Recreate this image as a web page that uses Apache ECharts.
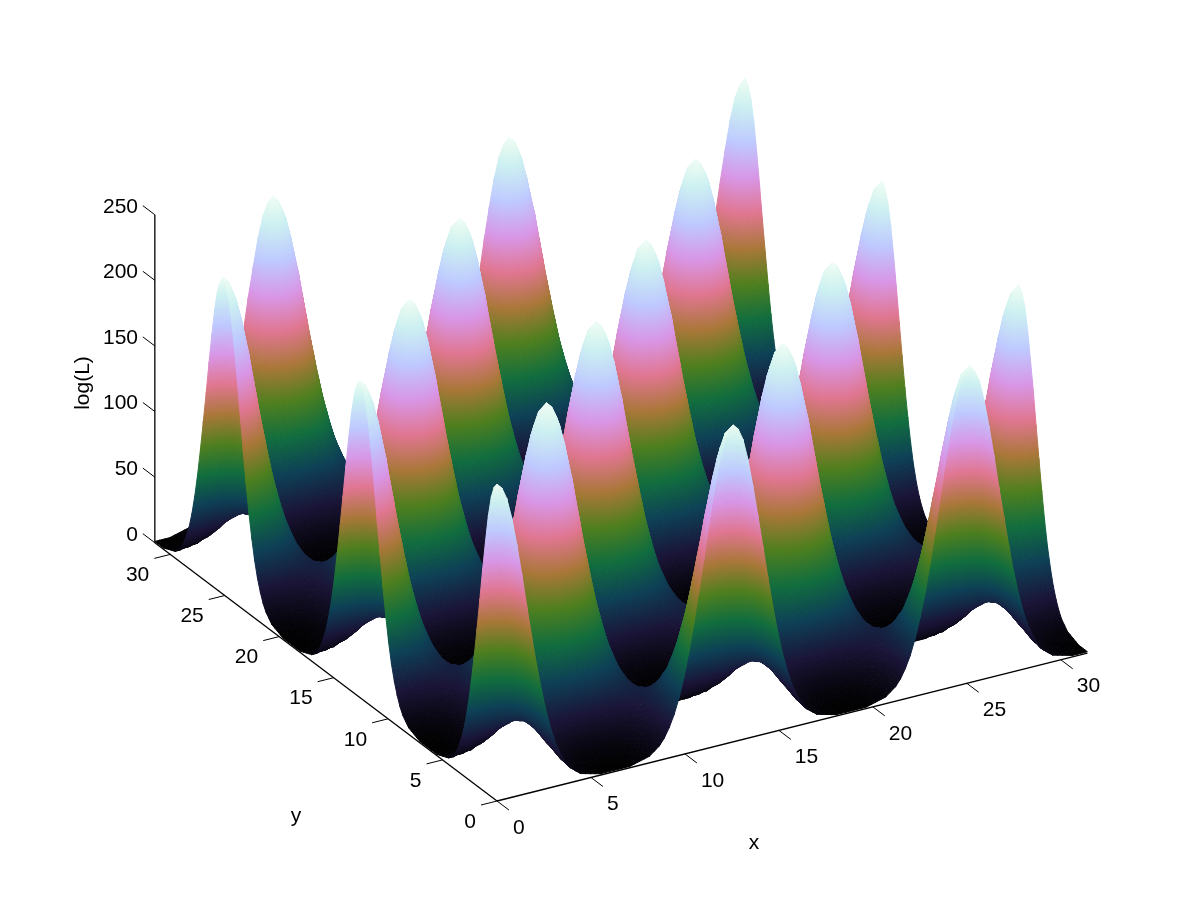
<!DOCTYPE html>
<html>
<head>
<meta charset="utf-8">
<title>log(L)</title>
<style>
html, body { margin: 0; padding: 0; background: #fff; }
#main { width: 1200px; height: 900px; }
</style>
<script src="https://cdn.jsdelivr.net/npm/echarts@6/dist/echarts.min.js"></script>
</head>
<body>
<div id="main"></div>
<script>
// grid nodes along x and y
var gridX = [0,0.26,0.52,0.79,1.05,1.31,1.57,1.83,2.09,2.36,2.62,2.88,3.14,3.40,3.67,3.93,4.19,4.45,4.71,4.97,5.24,5.50,5.76,6.02,6.28,6.54,6.81,7.07,7.33,7.59,7.85,8.11,8.38,8.64,8.90,9.16,9.42,9.69,9.95,10.21,10.47,10.73,11.00,11.26,11.52,11.78,12.04,12.30,12.57,12.83,13.09,13.35,13.61,13.87,14.14,14.40,14.66,14.92,15.18,15.45,15.71,15.97,16.23,16.49,16.76,17.02,17.28,17.54,17.80,18.06,18.33,18.59,18.85,19.11,19.37,19.63,19.90,20.16,20.42,20.68,20.94,21.21,21.47,21.73,21.99,22.25,22.51,22.78,23.04,23.30,23.56,23.82,24.09,24.35,24.61,24.87,25.13,25.39,25.66,25.92,26.18,26.44,26.70,26.97,27.23,27.49,27.75,28.01,28.27,28.54,28.80,29.06,29.32,29.58,29.85,30.11,30.37,30.63,30.89,31.16,31.42];
var gridY = gridX;

// surface rows, the same profiles come back along y
var rowP0 = [243,239,230,214,193,170,145,121,98,77,59,44,32,23,16,11,8,5,4,3,2,1,1,1,1,1,1,1,2,3,4,5,8,11,16,23,32,44,59,77,98,121,145,170,193,214,230,239,243,239,230,214,193,170,145,121,98,77,59,44,32,23,16,11,8,5,4,3,2,1,1,1,1,1,1,1,2,3,4,5,8,11,16,23,32,44,59,77,98,121,145,170,193,214,230,239,243,239,230,214,193,170,145,121,98,77,59,44,32,23,16,11,8,5,4,3,2,1,1,1,1];
var rowP1 = [239,236,226,211,191,168,144,120,97,76,59,44,32,23,16,11,8,5,4,3,2,1,1,1,1,1,1,1,2,3,4,5,8,11,16,23,32,44,59,76,97,120,144,168,191,211,226,236,239,236,226,211,191,168,144,120,97,76,59,44,32,23,16,11,8,5,4,3,2,1,1,1,1,1,1,1,2,3,4,5,8,11,16,23,32,44,59,76,97,120,144,168,191,211,226,236,239,236,226,211,191,168,144,120,97,76,59,44,32,23,16,11,8,5,4,3,2,1,1,1,1];
var rowP2 = [230,226,217,202,184,162,139,116,94,75,58,43,32,23,16,12,8,6,4,3,2,2,1,1,1,1,1,2,2,3,4,6,8,12,16,23,32,43,58,75,94,116,139,162,184,202,217,226,230,226,217,202,184,162,139,116,94,75,58,43,32,23,16,12,8,6,4,3,2,2,1,1,1,1,1,2,2,3,4,6,8,12,16,23,32,43,58,75,94,116,139,162,184,202,217,226,230,226,217,202,184,162,139,116,94,75,58,43,32,23,16,12,8,6,4,3,2,2,1,1,1];
var rowP3 = [214,211,202,189,172,152,131,110,90,72,56,43,32,23,17,12,9,6,4,3,2,2,2,1,1,1,2,2,2,3,4,6,9,12,17,23,32,43,56,72,90,110,131,152,172,189,202,211,214,211,202,189,172,152,131,110,90,72,56,43,32,23,17,12,9,6,4,3,2,2,2,1,1,1,2,2,2,3,4,6,9,12,17,23,32,43,56,72,90,110,131,152,172,189,202,211,214,211,202,189,172,152,131,110,90,72,56,43,32,23,17,12,9,6,4,3,2,2,2,1,1];
var rowP4 = [193,191,184,172,157,140,122,103,85,69,54,42,32,24,18,13,9,7,5,4,3,2,2,2,2,2,2,2,3,4,5,7,9,13,18,24,32,42,54,69,85,103,122,140,157,172,184,191,193,191,184,172,157,140,122,103,85,69,54,42,32,24,18,13,9,7,5,4,3,2,2,2,2,2,2,2,3,4,5,7,9,13,18,24,32,42,54,69,85,103,122,140,157,172,184,191,193,191,184,172,157,140,122,103,85,69,54,42,32,24,18,13,9,7,5,4,3,2,2,2,2];
var rowP5 = [170,168,162,152,140,126,110,94,79,65,52,41,32,24,19,14,11,8,6,5,4,3,3,3,3,3,3,3,4,5,6,8,11,14,19,24,32,41,52,65,79,94,110,126,140,152,162,168,170,168,162,152,140,126,110,94,79,65,52,41,32,24,19,14,11,8,6,5,4,3,3,3,3,3,3,3,4,5,6,8,11,14,19,24,32,41,52,65,79,94,110,126,140,152,162,168,170,168,162,152,140,126,110,94,79,65,52,41,32,24,19,14,11,8,6,5,4,3,3,3,3];
var rowP6 = [145,144,139,131,122,110,98,85,72,60,50,40,32,25,20,15,12,10,8,6,5,4,4,4,4,4,4,4,5,6,8,10,12,15,20,25,32,40,50,60,72,85,98,110,122,131,139,144,145,144,139,131,122,110,98,85,72,60,50,40,32,25,20,15,12,10,8,6,5,4,4,4,4,4,4,4,5,6,8,10,12,15,20,25,32,40,50,60,72,85,98,110,122,131,139,144,145,144,139,131,122,110,98,85,72,60,50,40,32,25,20,15,12,10,8,6,5,4,4,4,4];
var rowP7 = [121,120,116,110,103,94,85,75,65,56,47,39,32,26,21,17,14,12,10,8,7,6,6,5,5,5,6,6,7,8,10,12,14,17,21,26,32,39,47,56,65,75,85,94,103,110,116,120,121,120,116,110,103,94,85,75,65,56,47,39,32,26,21,17,14,12,10,8,7,6,6,5,5,5,6,6,7,8,10,12,14,17,21,26,32,39,47,56,65,75,85,94,103,110,116,120,121,120,116,110,103,94,85,75,65,56,47,39,32,26,21,17,14,12,10,8,7,6,6,5,5];
var rowP8 = [98,97,94,90,85,79,72,65,58,50,44,38,32,27,23,19,16,14,12,11,9,9,8,8,8,8,8,9,9,11,12,14,16,19,23,27,32,38,44,50,58,65,72,79,85,90,94,97,98,97,94,90,85,79,72,65,58,50,44,38,32,27,23,19,16,14,12,11,9,9,8,8,8,8,8,9,9,11,12,14,16,19,23,27,32,38,44,50,58,65,72,79,85,90,94,97,98,97,94,90,85,79,72,65,58,50,44,38,32,27,23,19,16,14,12,11,9,9,8,8,8];
var rowP9 = [77,76,75,72,69,65,60,56,50,46,41,36,32,28,25,22,19,17,15,14,13,12,12,11,11,11,12,12,13,14,15,17,19,22,25,28,32,36,41,46,50,56,60,65,69,72,75,76,77,76,75,72,69,65,60,56,50,46,41,36,32,28,25,22,19,17,15,14,13,12,12,11,11,11,12,12,13,14,15,17,19,22,25,28,32,36,41,46,50,56,60,65,69,72,75,76,77,76,75,72,69,65,60,56,50,46,41,36,32,28,25,22,19,17,15,14,13,12,12,11,11];
var rowP10 = [59,59,58,56,54,52,50,47,44,41,38,35,32,29,27,25,23,21,20,19,18,17,16,16,16,16,16,17,18,19,20,21,23,25,27,29,32,35,38,41,44,47,50,52,54,56,58,59,59,59,58,56,54,52,50,47,44,41,38,35,32,29,27,25,23,21,20,19,18,17,16,16,16,16,16,17,18,19,20,21,23,25,27,29,32,35,38,41,44,47,50,52,54,56,58,59,59,59,58,56,54,52,50,47,44,41,38,35,32,29,27,25,23,21,20,19,18,17,16,16,16];
var rowP11 = [44,44,43,43,42,41,40,39,38,36,35,33,32,31,29,28,27,26,25,24,24,23,23,23,23,23,23,23,24,24,25,26,27,28,29,31,32,33,35,36,38,39,40,41,42,43,43,44,44,44,43,43,42,41,40,39,38,36,35,33,32,31,29,28,27,26,25,24,24,23,23,23,23,23,23,23,24,24,25,26,27,28,29,31,32,33,35,36,38,39,40,41,42,43,43,44,44,44,43,43,42,41,40,39,38,36,35,33,32,31,29,28,27,26,25,24,24,23,23,23,23];
var rowM = [32,32,32,32,32,32,32,32,32,32,32,32,32,32,32,32,32,32,32,32,32,32,32,32,32,32,32,32,32,32,32,32,32,32,32,32,32,32,32,32,32,32,32,32,32,32,32,32,32,32,32,32,32,32,32,32,32,32,32,32,32,32,32,32,32,32,32,32,32,32,32,32,32,32,32,32,32,32,32,32,32,32,32,32,32,32,32,32,32,32,32,32,32,32,32,32,32,32,32,32,32,32,32,32,32,32,32,32,32,32,32,32,32,32,32,32,32,32,32,32,32];
var rowN11 = [23,23,23,23,24,24,25,26,27,28,29,31,32,33,35,36,38,39,40,41,42,43,43,44,44,44,43,43,42,41,40,39,38,36,35,33,32,31,29,28,27,26,25,24,24,23,23,23,23,23,23,23,24,24,25,26,27,28,29,31,32,33,35,36,38,39,40,41,42,43,43,44,44,44,43,43,42,41,40,39,38,36,35,33,32,31,29,28,27,26,25,24,24,23,23,23,23,23,23,23,24,24,25,26,27,28,29,31,32,33,35,36,38,39,40,41,42,43,43,44,44];
var rowN10 = [16,16,16,17,18,19,20,21,23,25,27,29,32,35,38,41,44,47,50,52,54,56,58,59,59,59,58,56,54,52,50,47,44,41,38,35,32,29,27,25,23,21,20,19,18,17,16,16,16,16,16,17,18,19,20,21,23,25,27,29,32,35,38,41,44,47,50,52,54,56,58,59,59,59,58,56,54,52,50,47,44,41,38,35,32,29,27,25,23,21,20,19,18,17,16,16,16,16,16,17,18,19,20,21,23,25,27,29,32,35,38,41,44,47,50,52,54,56,58,59,59];
var rowN9 = [11,11,12,12,13,14,15,17,19,22,25,28,32,36,41,46,50,56,60,65,69,72,75,76,77,76,75,72,69,65,60,56,50,46,41,36,32,28,25,22,19,17,15,14,13,12,12,11,11,11,12,12,13,14,15,17,19,22,25,28,32,36,41,46,50,56,60,65,69,72,75,76,77,76,75,72,69,65,60,56,50,46,41,36,32,28,25,22,19,17,15,14,13,12,12,11,11,11,12,12,13,14,15,17,19,22,25,28,32,36,41,46,50,56,60,65,69,72,75,76,77];
var rowN8 = [8,8,8,9,9,11,12,14,16,19,23,27,32,38,44,50,58,65,72,79,85,90,94,97,98,97,94,90,85,79,72,65,58,50,44,38,32,27,23,19,16,14,12,11,9,9,8,8,8,8,8,9,9,11,12,14,16,19,23,27,32,38,44,50,58,65,72,79,85,90,94,97,98,97,94,90,85,79,72,65,58,50,44,38,32,27,23,19,16,14,12,11,9,9,8,8,8,8,8,9,9,11,12,14,16,19,23,27,32,38,44,50,58,65,72,79,85,90,94,97,98];
var rowN7 = [5,5,6,6,7,8,10,12,14,17,21,26,32,39,47,56,65,75,85,94,103,110,116,120,121,120,116,110,103,94,85,75,65,56,47,39,32,26,21,17,14,12,10,8,7,6,6,5,5,5,6,6,7,8,10,12,14,17,21,26,32,39,47,56,65,75,85,94,103,110,116,120,121,120,116,110,103,94,85,75,65,56,47,39,32,26,21,17,14,12,10,8,7,6,6,5,5,5,6,6,7,8,10,12,14,17,21,26,32,39,47,56,65,75,85,94,103,110,116,120,121];
var rowN6 = [4,4,4,4,5,6,8,10,12,15,20,25,32,40,50,60,72,85,98,110,122,131,139,144,145,144,139,131,122,110,98,85,72,60,50,40,32,25,20,15,12,10,8,6,5,4,4,4,4,4,4,4,5,6,8,10,12,15,20,25,32,40,50,60,72,85,98,110,122,131,139,144,145,144,139,131,122,110,98,85,72,60,50,40,32,25,20,15,12,10,8,6,5,4,4,4,4,4,4,4,5,6,8,10,12,15,20,25,32,40,50,60,72,85,98,110,122,131,139,144,145];
var rowN5 = [3,3,3,3,4,5,6,8,11,14,19,24,32,41,52,65,79,94,110,126,140,152,162,168,170,168,162,152,140,126,110,94,79,65,52,41,32,24,19,14,11,8,6,5,4,3,3,3,3,3,3,3,4,5,6,8,11,14,19,24,32,41,52,65,79,94,110,126,140,152,162,168,170,168,162,152,140,126,110,94,79,65,52,41,32,24,19,14,11,8,6,5,4,3,3,3,3,3,3,3,4,5,6,8,11,14,19,24,32,41,52,65,79,94,110,126,140,152,162,168,170];
var rowN4 = [2,2,2,2,3,4,5,7,9,13,18,24,32,42,54,69,85,103,122,140,157,172,184,191,193,191,184,172,157,140,122,103,85,69,54,42,32,24,18,13,9,7,5,4,3,2,2,2,2,2,2,2,3,4,5,7,9,13,18,24,32,42,54,69,85,103,122,140,157,172,184,191,193,191,184,172,157,140,122,103,85,69,54,42,32,24,18,13,9,7,5,4,3,2,2,2,2,2,2,2,3,4,5,7,9,13,18,24,32,42,54,69,85,103,122,140,157,172,184,191,193];
var rowN3 = [1,1,2,2,2,3,4,6,9,12,17,23,32,43,56,72,90,110,131,152,172,189,202,211,214,211,202,189,172,152,131,110,90,72,56,43,32,23,17,12,9,6,4,3,2,2,2,1,1,1,2,2,2,3,4,6,9,12,17,23,32,43,56,72,90,110,131,152,172,189,202,211,214,211,202,189,172,152,131,110,90,72,56,43,32,23,17,12,9,6,4,3,2,2,2,1,1,1,2,2,2,3,4,6,9,12,17,23,32,43,56,72,90,110,131,152,172,189,202,211,214];
var rowN2 = [1,1,1,2,2,3,4,6,8,12,16,23,32,43,58,75,94,116,139,162,184,202,217,226,230,226,217,202,184,162,139,116,94,75,58,43,32,23,16,12,8,6,4,3,2,2,1,1,1,1,1,2,2,3,4,6,8,12,16,23,32,43,58,75,94,116,139,162,184,202,217,226,230,226,217,202,184,162,139,116,94,75,58,43,32,23,16,12,8,6,4,3,2,2,1,1,1,1,1,2,2,3,4,6,8,12,16,23,32,43,58,75,94,116,139,162,184,202,217,226,230];
var rowN1 = [1,1,1,1,2,3,4,5,8,11,16,23,32,44,59,76,97,120,144,168,191,211,226,236,239,236,226,211,191,168,144,120,97,76,59,44,32,23,16,11,8,5,4,3,2,1,1,1,1,1,1,1,2,3,4,5,8,11,16,23,32,44,59,76,97,120,144,168,191,211,226,236,239,236,226,211,191,168,144,120,97,76,59,44,32,23,16,11,8,5,4,3,2,1,1,1,1,1,1,1,2,3,4,5,8,11,16,23,32,44,59,76,97,120,144,168,191,211,226,236,239];
var rowN0 = [1,1,1,1,2,3,4,5,8,11,16,23,32,44,59,77,98,121,145,170,193,214,230,239,243,239,230,214,193,170,145,121,98,77,59,44,32,23,16,11,8,5,4,3,2,1,1,1,1,1,1,1,2,3,4,5,8,11,16,23,32,44,59,77,98,121,145,170,193,214,230,239,243,239,230,214,193,170,145,121,98,77,59,44,32,23,16,11,8,5,4,3,2,1,1,1,1,1,1,1,2,3,4,5,8,11,16,23,32,44,59,77,98,121,145,170,193,214,230,239,243];

var heights = [
    rowP0,rowP1,rowP2,rowP3,rowP4,rowP5,rowP6,rowP7,rowP8,rowP9,rowP10,rowP11,rowM,
    rowN11,rowN10,rowN9,rowN8,rowN7,rowN6,rowN5,rowN4,rowN3,rowN2,rowN1,rowN0,
    rowN1,rowN2,rowN3,rowN4,rowN5,rowN6,rowN7,rowN8,rowN9,rowN10,rowN11,rowM,
    rowP11,rowP10,rowP9,rowP8,rowP7,rowP6,rowP5,rowP4,rowP3,rowP2,rowP1,
    rowP0,rowP1,rowP2,rowP3,rowP4,rowP5,rowP6,rowP7,rowP8,rowP9,rowP10,rowP11,rowM,
    rowN11,rowN10,rowN9,rowN8,rowN7,rowN6,rowN5,rowN4,rowN3,rowN2,rowN1,rowN0,
    rowN1,rowN2,rowN3,rowN4,rowN5,rowN6,rowN7,rowN8,rowN9,rowN10,rowN11,rowM,
    rowP11,rowP10,rowP9,rowP8,rowP7,rowP6,rowP5,rowP4,rowP3,rowP2,rowP1,
    rowP0,rowP1,rowP2,rowP3,rowP4,rowP5,rowP6,rowP7,rowP8,rowP9,rowP10,rowP11,rowM,
    rowN11,rowN10,rowN9,rowN8,rowN7,rowN6,rowN5,rowN4,rowN3,rowN2,rowN1,rowN0
];

var xTicks = [0, 5, 10, 15, 20, 25, 30];
var yTicks = [0, 5, 10, 15, 20, 25, 30];
var zTicks = [0, 50, 100, 150, 200, 250];

// colours by z
var colorLevels = [0, 25, 50, 75, 100, 125, 150, 175, 200, 225, 237.5, 250];
var colorValues = ['#000000', '#1a1437', '#0d4056', '#116d3e', '#4f7f1e', '#aa7739', '#e07691', '#d896e6', '#bec9ff', '#ccf0f1', '#e4f9f1', '#ffffff'];

// view of the box, pixels per data unit
var originX = 497, originY = 801;
var xStep = [18.79, -4.71];
var yStep = [-10.89, -8.22];
var zStep = -1.312;
var surfaceZStep = -1.304; // peaks sit a touch lower than the z ticks say
var topX = 31.42, topY = 31.42;
var fontName = '"Liberation Sans", Arial, sans-serif';

function project(x, y, z, zs) {
    return [
        originX + xStep[0] * x + yStep[0] * y,
        originY + xStep[1] * x + yStep[1] * y + (zs || zStep) * z
    ];
}

function hexToRgb(hex) {
    return [parseInt(hex.substr(1, 2), 16), parseInt(hex.substr(3, 2), 16), parseInt(hex.substr(5, 2), 16)];
}

function colorAt(z) {
    var n = colorLevels.length;
    if (z <= colorLevels[0]) return colorValues[0];
    if (z >= colorLevels[n - 1]) return colorValues[n - 1];
    for (var k = 1; k < n; k++) {
        if (z <= colorLevels[k]) {
            var t = (z - colorLevels[k - 1]) / (colorLevels[k] - colorLevels[k - 1]);
            var a = hexToRgb(colorValues[k - 1]), b = hexToRgb(colorValues[k]);
            return 'rgb(' + Math.round(a[0] + (b[0] - a[0]) * t) + ',' +
                Math.round(a[1] + (b[1] - a[1]) * t) + ',' +
                Math.round(a[2] + (b[2] - a[2]) * t) + ')';
        }
    }
}

// one triangle of the surface, colour runs along the z slope on screen
function triangle(p, z) {
    var zMin = Math.min(z[0], z[1], z[2]);
    var zMax = Math.max(z[0], z[1], z[2]);
    var d1x = p[1][0] - p[0][0], d1y = p[1][1] - p[0][1];
    var d2x = p[2][0] - p[0][0], d2y = p[2][1] - p[0][1];
    var dz1 = z[1] - z[0], dz2 = z[2] - z[0];
    var det = d1x * d2y - d1y * d2x;
    var fill;
    if (Math.abs(det) < 0.01 || zMax - zMin < 0.5) {
        fill = colorAt((zMin + zMax) / 2);
    } else {
        var gx = (dz1 * d2y - dz2 * d1y) / det;
        var gy = (d1x * dz2 - d2x * dz1) / det;
        var g2 = gx * gx + gy * gy;
        var low = p[z.indexOf(zMin)];
        var stops = [{ offset: 0, color: colorAt(zMin) }];
        for (var k = 0; k < colorLevels.length; k++) {
            if (colorLevels[k] > zMin && colorLevels[k] < zMax) {
                stops.push({ offset: (colorLevels[k] - zMin) / (zMax - zMin), color: colorValues[k] });
            }
        }
        stops.push({ offset: 1, color: colorAt(zMax) });
        fill = new echarts.graphic.LinearGradient(
            low[0], low[1],
            low[0] + gx / g2 * (zMax - zMin), low[1] + gy / g2 * (zMax - zMin),
            stops, true
        );
    }
    return {
        type: 'polygon',
        shape: { points: p },
        style: { fill: fill, stroke: fill, lineWidth: 1, lineJoin: 'round' },
        silent: true
    };
}

function renderCell(params, api) {
    var i = api.value(0), j = api.value(1);
    var z00 = heights[j][i], z10 = heights[j][i + 1], z11 = heights[j + 1][i + 1], z01 = heights[j + 1][i];
    var p00 = api.coord(project(gridX[i], gridY[j], z00, surfaceZStep));
    var p10 = api.coord(project(gridX[i + 1], gridY[j], z10, surfaceZStep));
    var p11 = api.coord(project(gridX[i + 1], gridY[j + 1], z11, surfaceZStep));
    var p01 = api.coord(project(gridX[i], gridY[j + 1], z01, surfaceZStep));
    return {
        type: 'group',
        children: [
            triangle([p00, p11, p01], [z00, z11, z01]),
            triangle([p00, p10, p11], [z00, z10, z11])
        ]
    };
}

// far cells first so the near ones paint over them
var cells = [];
for (var j = gridY.length - 2; j >= 0; j--) {
    for (var i = gridX.length - 2; i >= 0; i--) {
        cells.push([i, j]);
    }
}

// axis lines and ticks
var segments = [];
segments.push([[0, 0, 0], [topX, 0, 0], 1.3]);
segments.push([[0, 0, 0], [0, topY, 0], 1.3]);
segments.push([[0, topY, 0], [0, topY, 250], 1.3]);
xTicks.forEach(function (t) { segments.push([[t, 0, 0], [t, -1.1, 0], 1]); });
yTicks.forEach(function (t) { segments.push([[0, t, 0], [-0.85, t, 0], 1]); });
zTicks.forEach(function (t) { segments.push([[0, topY, t], [0, topY + 1.1, t], 1]); });

function renderSegment(params, api) {
    var s = segments[params.dataIndex];
    var a = api.coord(project(s[0][0], s[0][1], s[0][2]));
    var b = api.coord(project(s[1][0], s[1][1], s[1][2]));
    return {
        type: 'line',
        shape: { x1: a[0], y1: a[1], x2: b[0], y2: b[1] },
        style: { stroke: '#000', lineWidth: s[2] },
        silent: true
    };
}

// tick labels and axis names
var labels = [];
xTicks.forEach(function (t) {
    var p = project(t, 0, 0);
    labels.push({ text: String(t), x: p[0] + 16, y: p[1] + 27, align: 'left' });
});
yTicks.forEach(function (t) {
    var p = project(0, t, 0);
    labels.push({ text: String(t), x: p[0] - 21, y: p[1] + 21, align: 'right' });
});
zTicks.forEach(function (t) {
    var p = project(0, topY, t);
    labels.push({ text: String(t), x: 138, y: p[1] - 8, align: 'right' });
});
labels.push({ text: 'x', x: 754, y: 843, align: 'center' });
labels.push({ text: 'y', x: 296, y: 816, align: 'center' });
labels.push({ text: 'log(L)', x: 83, y: 383, align: 'center', rotate: Math.PI / 2 });

function renderLabel(params, api) {
    var l = labels[params.dataIndex];
    var p = api.coord([l.x, l.y]);
    return {
        type: 'text',
        x: p[0],
        y: p[1],
        rotation: l.rotate || 0,
        style: {
            text: l.text,
            fill: '#000',
            font: '21px ' + fontName,
            align: l.align,
            verticalAlign: 'middle'
        },
        silent: true
    };
}

var chart = echarts.init(document.getElementById('main'), null, { renderer: 'canvas' });

var option = {
    animation: false,
    backgroundColor: '#ffffff',
    grid: { left: 0, right: 0, top: 0, bottom: 0 },
    xAxis: { type: 'value', min: 0, max: 1200, show: false },
    yAxis: { type: 'value', min: 0, max: 900, inverse: true, show: false },
    series: [
        {
            type: 'custom',
            name: 'axes',
            renderItem: renderSegment,
            data: segments.map(function (s, k) { return [k, 0]; }),
            clip: false,
            silent: true,
            z: 1
        },
        {
            type: 'custom',
            name: 'log(L)',
            renderItem: renderCell,
            data: cells,
            progressive: 0,
            clip: false,
            silent: true,
            z: 2
        },
        {
            type: 'custom',
            name: 'labels',
            renderItem: renderLabel,
            data: labels.map(function (l, k) { return [k, 0]; }),
            clip: false,
            silent: true,
            z: 3
        }
    ]
};

chart.setOption(option);
window.addEventListener('resize', chart.resize);
</script>
</body>
</html>
